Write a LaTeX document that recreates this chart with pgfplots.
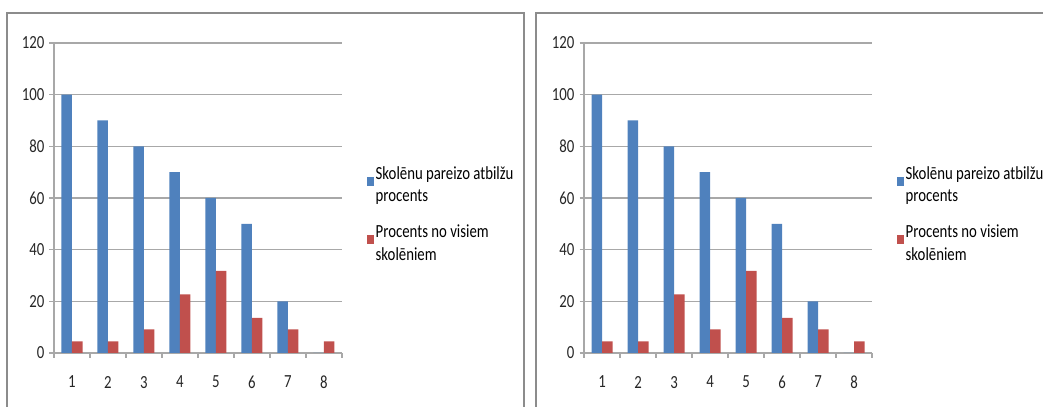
\documentclass[border=0pt]{standalone}
\usepackage{pgfplots}
\pgfplotsset{compat=1.18}
\usepackage{fontspec}
\setmainfont{Carlito}[FakeStretch=0.8]

\definecolor{serblue}{HTML}{4F81BD}
\definecolor{serred}{HTML}{C0504D}
\definecolor{gridgray}{HTML}{A8A8A8}
\definecolor{framegray}{HTML}{8C8C8C}

\newcommand{\labelfont}{\fontsize{18.5bp}{22bp}\selectfont}

% blue: share of correct answers per task; red: share of all pupils
\pgfplotstableread{
k  correct  pupils
1  100      4.5
2  90       4.5
3  80       9.1
4  70       22.7
5  60       31.8
6  50       13.6
7  20       9.1
8  0        4.5
}\tableleft
\pgfplotstableread{
k  correct  pupils
1  100      4.5
2  90       4.5
3  80       22.7
4  70       9.1
5  60       31.8
6  50       13.6
7  20       9.1
8  0        4.5
}\tableright

\pgfplotsset{
  panel/.style={
    scale only axis, width=288bp, height=310bp,
    anchor=south west,
    ybar=0pt, bar width=10.5bp,
    xmin=0.5, xmax=8.5, ymin=0, ymax=120,
    xtick={1,...,8}, major x tick style={draw=none},
    minor xtick={0.5,1.5,...,8.5},
    ytick={0,20,...,120},
    axis x line*=bottom, axis y line*=left,
    axis line style={draw=gridgray, line width=1.3bp},
    tick style={draw=gridgray, line width=1.1bp},
    tick align=outside, major tick length=4.5bp, minor tick length=5bp,
    ymajorgrids, grid style={draw=gridgray, line width=1.3bp},
    /pgf/number format/assume math mode=true,
    every tick label/.append style={text=black!85, font=\labelfont},
    xticklabel style={yshift=-15bp},
    yticklabel style={xshift=-1.5bp},
    legend style={at={(1.085,0.5)}, anchor=west, draw=none, fill=none,
      yshift=-16bp,
      font=\fontsize{18.5bp}{22.5bp}\selectfont,
      cells={anchor=west, align=left}, row sep=18bp,
      inner sep=0pt},
    legend image code/.code={\fill[##1] (0bp,-1bp) rectangle (7bp,8bp);},
    every axis plot/.append style={draw=none},
  }
}

\begin{document}
\begin{tikzpicture}
\useasboundingbox (0bp,0bp) rectangle (1043bp,407bp);
\draw[framegray, line width=1.5bp] (7bp,-10bp) -- (7bp,394bp) -- (524bp,394bp) -- (524bp,-10bp);
\draw[framegray, line width=1.5bp] (536bp,-10bp) -- (536bp,394bp) -- (1060bp,394bp);

\begin{axis}[panel, at={(54bp,54bp)}]
\addplot[fill=serblue] table[x=k, y=correct] {\tableleft};
\addplot[fill=serred] table[x=k, y=pupils] {\tableleft};
\legend{Skolēnu pareizo atbilžu\\procents, Procents no visiem\\skolēniem}
\end{axis}

\begin{axis}[panel, at={(584bp,54bp)}]
\addplot[fill=serblue] table[x=k, y=correct] {\tableright};
\addplot[fill=serred] table[x=k, y=pupils] {\tableright};
\legend{Skolēnu pareizo atbilžu\\procents, Procents no visiem\\skolēniem}
\end{axis}
\end{tikzpicture}
\end{document}
